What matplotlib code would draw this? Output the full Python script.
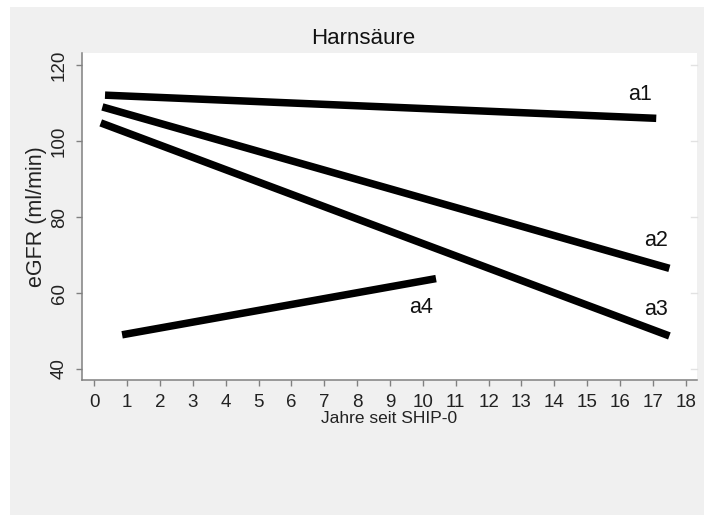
import matplotlib
matplotlib.use("Agg")
import matplotlib.pyplot as plt
from matplotlib.patches import Rectangle

plt.rcParams['font.family'] = ['Liberation Sans', 'DejaVu Sans']

# Fitted eGFR trajectories per group (start / end of each segment)
groups = ["a1", "a2", "a3", "a4"]
x_start = [0.33, 0.25, 0.2, 0.85]
x_end = [17.1, 17.5, 17.5, 10.4]
y_start = [112.1, 109.0, 104.8, 49.0]
y_end = [106.0, 66.5, 48.7, 63.8]

# Group label anchors
label_x = [16.6, 17.1, 17.1, 9.95]
label_y = [112.3, 73.8, 55.7, 56.1]

x_ticks = list(range(0, 19))
y_ticks = [40, 60, 80, 100, 120]

title = "Harnsäure"
x_label = "Jahre seit SHIP-0"
y_label = "eGFR (ml/min)"

fig = plt.figure(figsize=(7.04, 5.15), dpi=100)
fig.patch.set_facecolor("white")

# light grey panel behind the graph
bg = fig.add_axes([0, 0, 1, 1], zorder=-10)
bg.axis("off")
bg.set_xlim(0, 1)
bg.set_ylim(0, 1)
bg.add_patch(Rectangle((10 / 704, -0.01), 1.02 - 10 / 704, 1.01 - 7 / 515,
                       facecolor="#f0f0f0", edgecolor="none"))

ax = fig.add_axes([82 / 704, 1 - 380 / 515, (697 - 82) / 704, (380 - 53) / 515],
                  zorder=1)
ax.set_facecolor("white")

for xs, xe, ys, ye in zip(x_start, x_end, y_start, y_end):
    ax.plot([xs, xe], [ys, ye], color="black", linewidth=5.4,
            solid_capstyle="butt")

for g, lx, ly in zip(groups, label_x, label_y):
    ax.text(lx, ly, g, fontsize=15.5, color="#111111", ha="center", va="center")

ax.set_xlim(-0.37, 18.34)
ax.set_ylim(37.1, 123.2)
ax.set_xticks(x_ticks)
ax.set_xticklabels([str(t) for t in x_ticks])
ax.set_yticks(y_ticks)
ax.set_yticklabels([str(t) for t in y_ticks], rotation=90, va="center")

for side in ["top", "right"]:
    ax.spines[side].set_visible(False)
for side in ["left", "bottom"]:
    ax.spines[side].set_color("#808080")
    ax.spines[side].set_linewidth(1.1)

ax.tick_params(axis="both", colors="#808080", length=4.5, width=1.0,
               labelcolor="#222222", labelsize=13.5)
ax.tick_params(axis="x", pad=5.5)
ax.tick_params(axis="y", pad=5.5)

# faint ticks on the right edge of the plot region
for yt in y_ticks:
    ax.plot([1.0, 0.99], [yt, yt], color="#e2e2e2", linewidth=1.0,
            transform=ax.get_yaxis_transform(), clip_on=False)

ax.set_xlabel(x_label, fontsize=12.5, color="#222222", labelpad=0)
ax.set_ylabel(y_label, fontsize=15.5, color="#222222", labelpad=3)

fig.text(363.5 / 704, 1 - 38 / 515, title, fontsize=16, color="#111111",
         ha="center", va="center")

fig.savefig("out.png", dpi=100, facecolor=fig.get_facecolor())
